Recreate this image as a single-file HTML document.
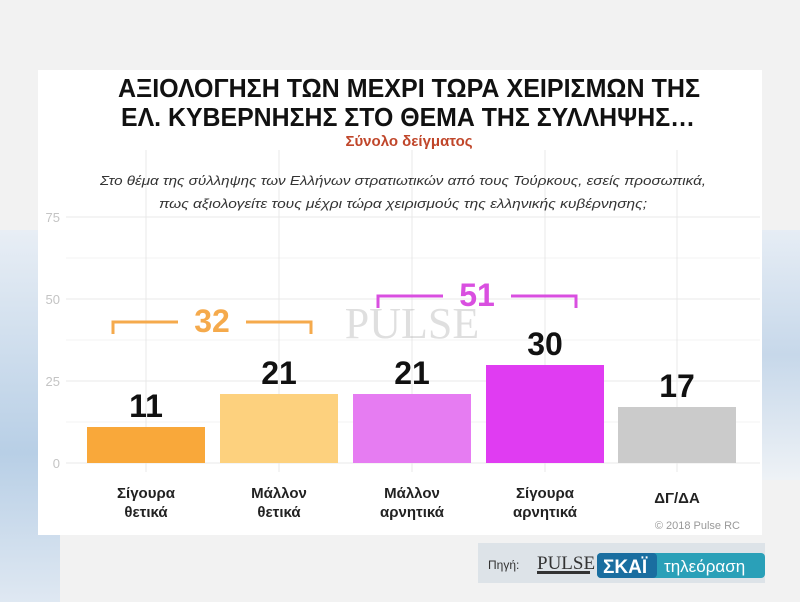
<!DOCTYPE html>
<html><head><meta charset="utf-8"><style>
body{margin:0;width:800px;height:602px;overflow:hidden;background:#f2f2f2;font-family:"Liberation Sans",sans-serif;position:relative}
.a{position:absolute}
</style></head><body>
<div class="a" style="left:0;top:230px;width:60px;height:372px;background:linear-gradient(180deg,#e8eef5,#b8cfe6 60%,#dfe8f2)"></div>
<div class="a" style="left:740px;top:230px;width:60px;height:250px;background:linear-gradient(180deg,#e6edf5,#c7d8ea 50%,#eef2f6)"></div>
<div class="a" style="left:38px;top:70px;width:724px;height:465px;background:#fff"></div>
<svg class="a" style="left:0;top:0" width="800" height="602">
<g stroke="#e8e8e8" stroke-width="1">
<line x1="66" y1="217" x2="760" y2="217"/><line x1="66" y1="299" x2="760" y2="299"/><line x1="66" y1="381" x2="760" y2="381"/><line x1="66" y1="463" x2="760" y2="463"/>
<line x1="66" y1="258" x2="760" y2="258" stroke="#f3f3f3"/><line x1="66" y1="340" x2="760" y2="340" stroke="#f3f3f3"/><line x1="66" y1="422" x2="760" y2="422" stroke="#f3f3f3"/>
<line x1="146" y1="150" x2="146" y2="472"/><line x1="279" y1="150" x2="279" y2="472"/><line x1="412" y1="150" x2="412" y2="472"/><line x1="545" y1="150" x2="545" y2="472"/><line x1="677" y1="150" x2="677" y2="472"/>
</g>
<g font-size="13" fill="#c4c4c4" text-anchor="end"><text x="60" y="222">75</text><text x="60" y="304">50</text><text x="60" y="386">25</text><text x="60" y="468">0</text></g>
<rect x="87" y="427" width="118" height="36" fill="#f9a83a"/>
<rect x="220" y="394" width="118" height="69" fill="#fdd17e"/>
<rect x="353" y="394" width="118" height="69" fill="#e67cf2"/>
<rect x="486" y="365" width="118" height="98" fill="#e03cf2"/>
<rect x="618" y="407" width="118" height="56" fill="#cbcbcb"/>
<g font-size="32" font-weight="bold" fill="#111" text-anchor="middle"><text x="146" y="417">11</text><text x="279" y="384">21</text><text x="412" y="384">21</text><text x="545" y="355">30</text><text x="677" y="397">17</text></g>
<g fill="none" stroke="#f5aa4c" stroke-width="3"><polyline points="113,334 113,322 178,322"/><polyline points="246,322 311,322 311,334"/></g>
<text x="212" y="332" font-size="32" font-weight="bold" fill="#f5aa4c" text-anchor="middle">32</text>
<g fill="none" stroke="#d94fe0" stroke-width="3"><polyline points="378,308 378,296 443,296"/><polyline points="511,296 576,296 576,308"/></g>
<text x="477" y="306" font-size="32" font-weight="bold" fill="#d94fe0" text-anchor="middle">51</text>
<text x="412" y="338" font-size="44" font-family="Liberation Serif" fill="#999" opacity="0.3" text-anchor="middle">PULSE</text>
<g font-size="15" font-weight="bold" fill="#222" text-anchor="middle">
<text x="146" y="498">Σίγουρα</text><text x="146" y="517">θετικά</text>
<text x="279" y="498">Μάλλον</text><text x="279" y="517">θετικά</text>
<text x="412" y="498">Μάλλον</text><text x="412" y="517">αρνητικά</text>
<text x="545" y="498">Σίγουρα</text><text x="545" y="517">αρνητικά</text>
<text x="677" y="503">ΔΓ/ΔΑ</text></g>
<text x="740" y="529" font-size="11" fill="#999" text-anchor="end">© 2018 Pulse RC</text>
<g font-weight="bold" fill="#111" text-anchor="middle" font-size="26"><text x="409" y="97" textLength="582" lengthAdjust="spacingAndGlyphs">ΑΞΙΟΛΟΓΗΣΗ ΤΩΝ ΜΕΧΡΙ ΤΩΡΑ ΧΕΙΡΙΣΜΩΝ ΤΗΣ</text>
<text x="408" y="126" textLength="574" lengthAdjust="spacingAndGlyphs">ΕΛ. ΚΥΒΕΡΝΗΣΗΣ ΣΤΟ ΘΕΜΑ ΤΗΣ ΣΥΛΛΗΨΗΣ…</text></g>
<text x="409" y="146" font-size="15" font-weight="bold" fill="#c0462a" text-anchor="middle">Σύνολο δείγματος</text>
<g font-size="13" font-style="italic" fill="#333" text-anchor="middle"><text x="403" y="185" textLength="606" lengthAdjust="spacingAndGlyphs">Στο θέμα της σύλληψης των Ελλήνων στρατιωτικών από τους Τούρκους, εσείς προσωπικά,</text>
<text x="403" y="208" textLength="488" lengthAdjust="spacingAndGlyphs">πως αξιολογείτε τους μέχρι τώρα χειρισμούς της ελληνικής κυβέρνησης;</text></g>
<rect x="478" y="543" width="287" height="40" fill="#dde3e8"/>
<text x="488" y="569" font-size="12" fill="#333">Πηγή:</text>
<text x="537" y="569" font-size="19" font-family="Liberation Serif" fill="#333">PULSE</text>
<rect x="537" y="571" width="53" height="3" fill="#333"/>
<rect x="597" y="553" width="168" height="25" rx="4" fill="#2aa0b8"/>
<rect x="597" y="553" width="60" height="25" rx="4" fill="#1a6ea0"/>
<text x="603" y="573" font-size="19" font-weight="bold" fill="#fff">ΣΚΑΪ</text>
<text x="664" y="572" font-size="17" fill="#fff">τηλεόραση</text>
</svg>
</body></html>
